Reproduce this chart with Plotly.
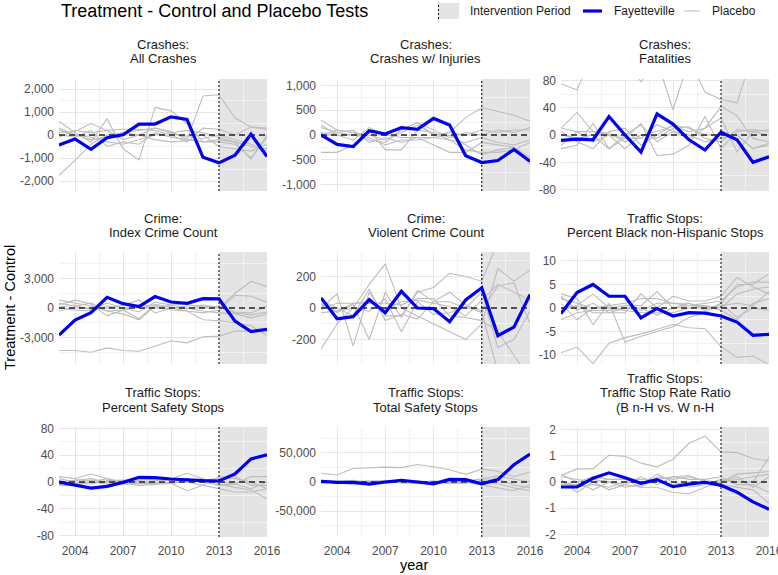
import plotly.graph_objects as go

# ---------------- data ----------------
years = list(range(2003, 2017))
intervention_start = 2013
intervention_end = 2016

panel_titles = [
    ["Crashes:", "All Crashes"],
    ["Crashes:", "Crashes w/ Injuries"],
    ["Crashes:", "Fatalities"],
    ["Crime:", "Index Crime Count"],
    ["Crime:", "Violent Crime Count"],
    ["Traffic Stops:", "Percent Black non-Hispanic Stops"],
    ["Traffic Stops:", "Percent Safety Stops"],
    ["Traffic Stops:", "Total Safety Stops"],
    ["Traffic Stops:", "Traffic Stop Rate Ratio", "(B n-H vs. W n-H"],
]

# Fayetteville (treatment - control)
fay_all_crashes = [-430, -170, -620, -115, 10, 475, 475, 790, 680, -970, -1210, -880, 30, -940]
fay_injury_crashes = [0, -190, -235, 85, 20, 150, 115, 335, 200, -420, -555, -515, -290, -530]
fay_fatalities = [-8, -6, -7, 27, 0, -25, 31, 16, -7, -22, 4, -7, -40, -32]
fay_index_crime = [-2760, -1230, -480, 1090, 440, 140, 1160, 610, 480, 950, 920, -1330, -2390, -2180]
fay_violent_crime = [64, -68, -55, 53, -30, 106, 0, -4, -87, 51, 128, -175, -121, 85]
fay_pct_black = [-1.2, 3.3, 5.0, 2.5, 2.5, -2.1, -0.1, -1.7, -1.0, -1.1, -1.7, -3.0, -5.8, -5.6]
fay_pct_safety = [0, -4, -9, -6.5, -0.5, 7, 6.5, 4.5, 3, 2, 1.5, 12, 34.5, 40.5]
fay_total_safety = [1000, -500, -500, -3500, 0, 3000, 0, -3000, 4500, 4000, -3000, 4000, 29500, 47700]
fay_rate_ratio = [-0.19, -0.19, 0.14, 0.35, 0.16, -0.05, 0.09, -0.18, -0.08, -0.01, -0.13, -0.39, -0.76, -1.04]

# Placebo tests
plc_all_crashes = [
    [-1750, -1100, -400, 0, 100, 200, 300, 150, -200, 1700, 1750, 750, 350, 250],
    [600, 100, -300, 700, -600, -1080, 1200, 1050, 500, -300, -200, -300, -500, -600],
    [100, 150, 500, 200, 250, 250, 200, 0, -300, 300, 250, 0, 350, 300],
    [0, -100, 200, -500, -300, -400, 100, -100, -200, -300, -300, -400, -1000, -100],
    [300, 0, -200, -100, 100, 0, 300, 100, -100, 0, -500, -600, -700, -400],
    [-100, 200, 100, 200, -200, 0, -200, -300, -250, -150, 0, -200, -400, -700],
    [200, 0, -100, -300, -400, -200, 0, 100, 200, 100, -100, -300, -1050, 0],
]
plc_injury_crashes = [
    [300, 100, 50, -100, -150, 100, 250, 0, 50, 350, 550, 480, 400, 280],
    [-350, -350, -200, 100, -300, -300, 100, 50, -100, -300, -350, -350, -300, -150],
    [150, 50, 100, -150, -50, -150, -50, -200, -350, -350, -150, -200, -250, -450],
    [0, 100, 50, 0, -100, 50, 200, 0, 50, 0, 100, 50, 100, 100],
    [50, 0, -100, 150, 0, -50, -50, -50, -100, -150, -50, -150, -200, -100],
    [-50, 50, 0, 50, 50, 100, 250, 100, -50, 50, 0, 100, 50, 150],
    [200, 0, 0, -50, -200, -100, -100, -50, 0, -200, -400, -300, -250, -600],
]
plc_fatalities = [
    [75, 66, 120, 130, 110, 78, 110, 37, 110, 63, 52, 47, 120, 130],
    [10, 33, 5, 0, -20, 0, 5, 13, 5, 10, 42, 28, -5, -10],
    [-20, -15, 17, -20, -5, 17, -30, -28, -15, 27, -20, 5, 8, 5],
    [5, -10, -20, 5, 10, -15, 0, 15, 10, 0, 0, 0, -20, -15],
    [-15, 5, 5, 3, -10, 0, -5, 10, 12, -5, -10, 8, 5, 0],
    [0, -5, 0, -20, 0, 15, -10, 5, -5, 10, 25, -25, 5, 8],
    [10, 5, -10, 0, -5, -5, 15, 5, 0, -10, -5, 0, -20, -12],
]
plc_index_crime = [
    [-4330, -4330, -4500, -4060, -4330, -4400, -3890, -3340, -3550, -2930, -2860, -2350, -2350, -2110],
    [800, 500, 200, -300, -200, 200, 300, 100, -100, 200, 0, 1500, 2700, 2200],
    [300, 800, 400, -800, -200, -1100, 400, 0, -300, -500, -200, 1300, 1200, 600],
    [-300, 100, 0, 0, 300, 800, -500, 0, 200, 300, 100, -500, -700, -400],
    [500, 200, 500, -300, -600, -1200, 200, -200, -300, -1200, -1300, -1500, -1800, -2800],
    [0, -200, -300, 200, 0, 300, 0, 300, 0, -300, -500, -600, -1000, -600],
    [100, 300, -200, 500, 0, -400, 600, 300, 400, 0, 200, -400, -500, 200],
]
plc_violent_crime = [
    [-260, -100, 0, 150, 280, 0, -50, -100, -150, -200, -100, 250, 170, 240],
    [0, 90, -240, 100, -50, -50, 100, 130, 220, 200, 170, 420, 450, 500],
    [30, -30, 20, -200, 100, -60, 110, 40, 100, 20, -20, 140, 160, -100],
    [-30, -20, 30, 30, 30, 20, 60, 60, -50, -60, -80, -150, -300, -450],
    [50, 0, -50, 120, -80, -40, -70, 40, 40, 0, 100, -250, -200, -20],
    [20, -20, 0, -20, 60, -150, 40, -40, -30, 10, -30, -400, -500, -350],
    [-10, 30, 30, 40, -10, 40, 50, 30, 10, -50, 50, 150, 100, 50],
]
plc_pct_black = [
    [-9.5, -8.3, -11.8, -7.5, -6.3, -5.5, -4.5, -3.5, -4.2, -4.4, -8.2, -10.5, -10.2, -12],
    [3, 2, -3.5, 1, -7.3, -6, -5, -4, -2, -1, 1, 5, 5, 7.3],
    [2.5, -0.5, 1, -1, -1, 3, 0, 2.5, 1.5, 1.5, 2.5, 6.5, 4.5, 3],
    [0, 0.5, 3, 0, 0.5, 0.5, 3.5, 0, 0.5, 1, 1.5, 4.5, 5.5, 5.5],
    [-2.5, -1, -0.5, -0.5, 0, -0.5, 1, 1, 0.5, 0.5, 0, 3, 4, 4.5],
    [1, -2.5, 0, 0, -0.5, -1, -1, -1, 0, 0.5, -0.5, -2.5, 1, 2],
    [-0.5, 0.5, -1, -1, 0, 0, -1.5, 0, 1, -0.5, 1, -2, 0, -0.5],
    [2, 1, 0, 0.5, 1, 2, 2, 1, 1, 0, 0.5, 1, 0.5, 3.5],
]
plc_pct_safety = [
    [8, 5, 12, 5, -2, -5, -3, -2, -13, -5, 8, 5, 0, -10],
    [-4, 3, 2, 0, 2, 3, 3, 5, 13, 5, -3, -8, -12, -25],
    [5, 0, 0, -3, -3, -3, -2, 0, 0, -5, -10, -15, -15, -10],
    [-5, -5, 0, 5, 0, 3, 5, 3, 5, 0, -5, -3, 8, 8],
    [0, 3, 5, 0, 0, -2, 0, -2, 0, 3, 5, 8, -5, -5],
    [2, -2, -3, 2, 3, 0, 2, 2, 2, 3, 0, -3, -10, 0],
]
plc_total_safety = [
    [15000, 12000, 23000, 24500, 25500, 24500, 30000, 26000, 21000, 13000, 22000, 18500, 9000, 17000],
    [0, 0, -5000, -3000, 0, 2000, 0, 0, -3000, -2000, 3000, 5000, -5000, -10000],
    [-2000, 0, 3000, 0, -2000, 0, 2000, 0, 2000, 0, -5000, -10000, -15000, -5000],
    [3000, 2000, 0, 2000, 1000, -2000, -1000, 2000, -1000, 1000, 5000, 10000, 5000, 0],
    [0, -2000, 1000, 0, 3000, 0, -3000, -2000, 0, 3000, 0, -3000, -10000, -15000],
]
plc_rate_ratio = [
    [0.25, 0.5, 0.5, 1.02, 0.98, 0.72, 0.58, 0.87, 1.48, 1.75, 1.15, 1.12, 0.9, 0.8],
    [0.1, -0.4, 0, -0.3, -0.1, 0.2, -0.1, 0.2, 0.25, 0, 0, 0.3, 0.35, 0.4],
    [0.3, 0, -0.3, 0, -0.2, -0.1, 0.3, 0, -0.2, -0.1, 0.1, 0, 0, 0.95],
    [-0.1, 0, 0.2, 0.1, 0.1, -0.2, -0.2, -0.4, -0.45, -0.2, 0, 0.1, 0.2, 0.3],
    [0, -0.2, -0.1, -0.2, 0, 0, 0, -0.1, 0, 0, -0.1, -0.2, -0.3, -0.8],
    [0.2, 0.1, 0, 0.1, 0.1, 0.1, 0.1, 0.2, 0.1, 0.1, 0.2, -0.1, -0.1, -0.4],
    [-0.1, -0.1, 0.1, 0, -0.1, -0.2, 0.2, 0.1, 0.2, 0.05, 0, 0.2, -0.2, 0.2],
]

fay_series = [fay_all_crashes, fay_injury_crashes, fay_fatalities,
              fay_index_crime, fay_violent_crime, fay_pct_black,
              fay_pct_safety, fay_total_safety, fay_rate_ratio]
plc_series = [plc_all_crashes, plc_injury_crashes, plc_fatalities,
              plc_index_crime, plc_violent_crime, plc_pct_black,
              plc_pct_safety, plc_total_safety, plc_rate_ratio]

# y tick values per panel
y_ticks = [
    [-2000, -1000, 0, 1000, 2000],
    [-1000, -500, 0, 500, 1000],
    [-80, -40, 0, 40, 80],
    [-3000, 0, 3000],
    [-200, 0, 200],
    [-10, -5, 0, 5, 10],
    [-80, -40, 0, 40, 80],
    [-50000, 0, 50000],
    [-2, -1, 0, 1, 2],
]
x_ticks = [2004, 2007, 2010, 2013, 2016]

# ---------------- layout / style ----------------
W, H = 778, 575
FONT = "Liberation Sans, Arial, Helvetica, sans-serif"
y_half_range = [2435, 1130, 82, 5700, 355, 11.9, 82, 94000, 2.1]
col_px = [(59, 267), (321, 530), (561, 769)]
row_px = [(79, 191), (252, 364), (427, 537)]
title_bottom_px = [59, 233, 407]
BLUE = "#0000ee"
GREY = "#bdbdbd"
SHADE = "#e4e4e4"
MAJOR = "#e6e6e6"
MINOR = "#f2f2f2"


def fx(p):
    return p / W


def fy(p):
    return 1 - p / H


def fmt(v):
    if isinstance(v, float) and not v.is_integer():
        s = f"{v:g}"
    else:
        s = f"{int(v):,}"
    return s


fig = go.Figure()
shapes = []
annotations = []
layout = {}

for i in range(9):
    r, c = divmod(i, 3)
    n = "" if i == 0 else str(i + 1)
    xa, ya = "x" + n, "y" + n
    # placebo lines
    for s in plc_series[i]:
        fig.add_trace(go.Scatter(x=years, y=s, mode="lines", xaxis=xa, yaxis=ya,
                                 line=dict(color=GREY, width=1.1), showlegend=False,
                                 hoverinfo="skip"))
    # zero reference line
    fig.add_trace(go.Scatter(x=[years[0], years[-1]], y=[0, 0], mode="lines",
                             xaxis=xa, yaxis=ya,
                             line=dict(color="#222222", width=1.6, dash="6px,4px"),
                             showlegend=False, hoverinfo="skip"))
    # Fayetteville
    fig.add_trace(go.Scatter(x=years, y=fay_series[i], mode="lines", xaxis=xa, yaxis=ya,
                             line=dict(color=BLUE, width=3.2), showlegend=False,
                             hoverinfo="skip"))

    x0, x1 = col_px[c]
    y0, y1 = row_px[r]
    ticks = y_ticks[i]
    step = ticks[1] - ticks[0]
    hr = y_half_range[i]
    minor_vals = []
    k = -10
    while k <= 10:
        v = k * step / 2
        if abs(v) <= hr and v not in ticks:
            minor_vals.append(v)
        k += 1
    layout["xaxis" + n] = dict(
        domain=[fx(x0), fx(x1)], anchor=ya, range=[years[0], years[-1]],
        tickmode="array", tickvals=x_ticks, ticktext=[str(t) for t in x_ticks],
        showticklabels=(r == 2), ticks="", showline=False, zeroline=False,
        showgrid=True, gridcolor=MAJOR, gridwidth=1,
        minor=dict(tickvals=[2005.5, 2008.5, 2011.5, 2014.5], showgrid=True,
                   gridcolor=MINOR, gridwidth=1, ticks=""),
        tickfont=dict(family=FONT, size=12, color="#4d4d4d"),
        ticklabelstandoff=5, ticklabeloverflow="allow", automargin=False,
        fixedrange=True,
    )
    layout["yaxis" + n] = dict(
        domain=[fy(y1), fy(y0)], anchor=xa, range=[-hr, hr],
        tickmode="array", tickvals=ticks, ticktext=[fmt(t) for t in ticks],
        ticks="", showline=False, zeroline=False,
        showgrid=True, gridcolor=MAJOR, gridwidth=1,
        minor=dict(tickvals=minor_vals, showgrid=True, gridcolor=MINOR, gridwidth=1, ticks=""),
        tickfont=dict(family=FONT, size=12, color="#4d4d4d"),
        ticklabelstandoff=4, automargin=False,
        fixedrange=True,
    )
    # intervention period shading
    shapes.append(dict(type="rect", xref=xa, yref=ya + " domain", x0=intervention_start,
                       x1=intervention_end, y0=0, y1=1, fillcolor=SHADE,
                       line=dict(width=0), layer="below"))
    # intervention line
    shapes.append(dict(type="line", xref=xa, yref=ya + " domain", x0=intervention_start,
                       x1=intervention_start, y0=0, y1=1,
                       line=dict(color="#111111", width=1.1, dash="2px,2px"), layer="above"))
    # facet titles
    lines = panel_titles[i]
    cx = (x0 + x1) / 2
    for j, txt in enumerate(lines):
        yc = title_bottom_px[r] - (len(lines) - 1 - j) * 14.3
        annotations.append(dict(text=txt, x=fx(cx), y=fy(yc), xref="paper", yref="paper",
                                xanchor="center", yanchor="middle", showarrow=False,
                                font=dict(family=FONT, size=13, color="#1a1a1a")))

# overall title
annotations.append(dict(text="Treatment - Control and Placebo Tests", x=fx(59), y=fy(11),
                        xref="paper", yref="paper", xanchor="left", yanchor="middle",
                        showarrow=False, font=dict(family=FONT, size=18, color="#000000")))
# axis titles
annotations.append(dict(text="Treatment - Control", x=fx(10), y=fy(308), xref="paper",
                        yref="paper", xanchor="center", yanchor="middle", textangle=-90,
                        showarrow=False, font=dict(family=FONT, size=14.5, color="#000000")))
annotations.append(dict(text="year", x=fx(414), y=fy(565), xref="paper", yref="paper",
                        xanchor="center", yanchor="middle", showarrow=False,
                        font=dict(family=FONT, size=14.5, color="#000000")))

# legend (manual)
shapes.append(dict(type="rect", xref="paper", yref="paper", x0=fx(438), x1=fx(459),
                   y0=fy(19), y1=fy(3), fillcolor=SHADE, line=dict(width=0)))
shapes.append(dict(type="line", xref="paper", yref="paper", x0=fx(438.5), x1=fx(438.5),
                   y0=fy(19), y1=fy(3), line=dict(color="#111111", width=1, dash="2px,2px")))
shapes.append(dict(type="line", xref="paper", yref="paper", x0=fx(583), x1=fx(602),
                   y0=fy(11), y1=fy(11), line=dict(color=BLUE, width=3.2)))
shapes.append(dict(type="line", xref="paper", yref="paper", x0=fx(684), x1=fx(700),
                   y0=fy(11), y1=fy(11), line=dict(color="#cccccc", width=1.3)))
for txt, xl in [("Intervention Period", 468), ("Fayetteville", 612), ("Placebo", 710)]:
    annotations.append(dict(text=txt, x=fx(xl), y=fy(11), xref="paper", yref="paper",
                            xanchor="left", yanchor="middle", showarrow=False,
                            font=dict(family=FONT, size=12, color="#1a1a1a")))

fig.update_layout(
    width=W, height=H, margin=dict(l=0, r=0, t=0, b=0, autoexpand=False),
    paper_bgcolor="white", plot_bgcolor="white",
    shapes=shapes, annotations=annotations, showlegend=False,
    font=dict(family=FONT),
    **layout,
)

fig.write_html("out.html", config={"displayModeBar": False},
               post_script="document.body.style.margin='0';")
